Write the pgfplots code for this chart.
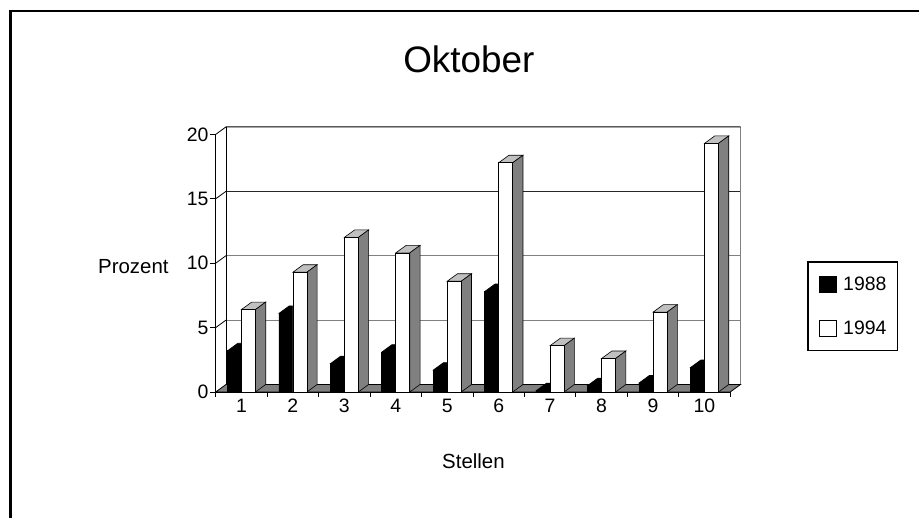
\documentclass[border=0pt]{standalone}
\usepackage{fontspec}
\setmainfont{Liberation Sans}
\usepackage{pgfplots}
\pgfplotsset{compat=1.18}

\definecolor{topgray}{HTML}{C0C0C0}
\definecolor{sidegray}{HTML}{808080}
\definecolor{gridgray}{HTML}{808080}

% depth of the 3-D extrusion (bp) and the y unit of the axis (bp)
\def\depx{10.3}
\def\depy{7.5}
\def\yunit{12.88}

% top and side face of a column; the mark sits at the top of the front face
% #1 = left edge of the front face relative to the data point (bp)
% #2 = top colour, #3 = side colour, #4 = colour of the front top edge
\newcommand\drawcube[4]{%
  \pgfmathsetmacro\barh{\barval*\yunit}%
  \pgfsetlinewidth{0.6bp}%
  \pgfsetstrokecolor{black}%
  \pgfsetfillcolor{#2}%
  \pgfpathmoveto{\pgfpoint{#1bp}{0bp}}%
  \pgfpathlineto{\pgfpoint{#1bp+\depx bp}{\depy bp}}%
  \pgfpathlineto{\pgfpoint{#1bp+14bp+\depx bp}{\depy bp}}%
  \pgfpathlineto{\pgfpoint{#1bp+14bp}{0bp}}%
  \pgfpathclose
  \pgfusepath{fill,stroke}%
  \pgfsetfillcolor{#3}%
  \pgfpathmoveto{\pgfpoint{#1bp+14bp}{0bp}}%
  \pgfpathlineto{\pgfpoint{#1bp+14bp+\depx bp}{\depy bp}}%
  \pgfpathlineto{\pgfpoint{#1bp+14bp+\depx bp}{\depy bp-\barh bp}}%
  \pgfpathlineto{\pgfpoint{#1bp+14bp}{-\barh bp}}%
  \pgfpathclose
  \pgfusepath{fill,stroke}%
  \pgfsetstrokecolor{#4}%
  \pgfpathmoveto{\pgfpoint{#1bp+0.4bp}{-0.9bp}}%
  \pgfpathlineto{\pgfpoint{#1bp+13.6bp}{-0.9bp}}%
  \pgfusepath{stroke}%
}
\pgfdeclareplotmark{cubeleft}{\drawcube{-14}{black}{black}{topgray}}
\pgfdeclareplotmark{cuberight}{\drawcube{0}{topgray}{sidegray}{white}}

\pgfplotsset{
  cubefaces/.style={
    scatter, only marks, forget plot, mark=#1,
    visualization depends on={y \as \barval},
    scatter/@pre marker code/.code={\pgfscope},
    scatter/@post marker code/.code={\endpgfscope},
  },
}

\begin{document}
\begin{tikzpicture}
\useasboundingbox (0,0) rectangle (919bp,518bp);
\draw[line width=2.6bp] (10.3bp,0bp) -- (10.3bp,506.8bp) -- (919bp,506.8bp);
\begin{axis}[
  at={(215.7bp,126bp)}, anchor=south west,
  x=51.45bp, y=\yunit bp,
  xmin=0.5, xmax=10.5, ymin=0, ymax=20,
  clip=false, clip marker paths=true,
  axis x line*=bottom, axis y line*=left,
  axis line style={line width=0.8bp, black},
  xtick={1,...,10}, ytick={0,5,...,20},
  major tick length=0pt,
  /pgf/number format/assume math mode=true,
  tick label style={font=\fontsize{19.5}{23}\selectfont},
  xticklabel style={inner ysep=6.5bp},
  yticklabel style={inner xsep=7bp},
  title={Oktober},
  title style={font=\fontsize{37}{44}\selectfont, at={(axis description cs:0.492,1.268)}, anchor=center},
  xlabel={Stellen},
  xlabel style={font=\fontsize{20.5}{24}\selectfont, at={(axis description cs:0.501,-0.268)}, anchor=center},
  ylabel={Prozent},
  ylabel style={font=\fontsize{20.5}{24}\selectfont, rotate=-90, at={(axis description cs:-0.16,0.485)}, anchor=center},
  legend cell align=left,
  legend style={at={(axis description cs:1.1499,0.3324)}, anchor=west,
    draw=black, line width=1.2bp, fill=white,
    font=\fontsize{19.5}{23}\selectfont,
    nodes={inner sep=0pt}, inner xsep=11bp, inner ysep=13.6bp,
    column sep=7bp, row sep=27bp},
]
% back wall, side-wall gridlines and floor
\pgfplotsinvokeforeach{5,10}{
  \draw[line width=0.8bp, gridgray] ([shift={(\depx bp,\depy bp)}]axis cs:0.5,#1) -- ([shift={(\depx bp,\depy bp)}]axis cs:10.5,#1);
  \draw[line width=0.8bp, black] (axis cs:0.5,#1) -- ++(\depx bp,\depy bp);
}
\draw[line width=0.8bp, black!85] ([shift={(\depx bp,\depy bp)}]axis cs:0.5,15) -- ([shift={(\depx bp,\depy bp)}]axis cs:10.5,15);
\draw[line width=0.8bp, black] (axis cs:0.5,15) -- ++(\depx bp,\depy bp);
\draw[line width=0.8bp, gridgray] ([shift={(\depx bp,\depy bp)}]axis cs:10.5,20) -- ([shift={(\depx bp,\depy bp)}]axis cs:10.5,0);
\draw[line width=0.8bp, black] (axis cs:0.5,20) -- ++(\depx bp,\depy bp) -- ([shift={(\depx bp,\depy bp)}]axis cs:10.5,20);
\draw[line width=0.8bp, black] ([shift={(\depx bp,\depy bp)}]axis cs:0.5,0) -- ([shift={(\depx bp,\depy bp)}]axis cs:0.5,20);
\filldraw[fill=sidegray, draw=black, line width=0.8bp] (axis cs:0.5,0) -- (axis cs:10.5,0) -- ++(\depx bp,\depy bp) -- ([shift={(\depx bp,\depy bp)}]axis cs:0.5,0) -- cycle;
% ticks
\pgfplotsinvokeforeach{0,5,...,20}{\draw[line width=0.8bp] (axis cs:0.5,#1) -- ++(-6bp,0bp);}
\pgfplotsinvokeforeach{0.5,1.5,...,10.5}{\draw[line width=0.8bp] (axis cs:#1,0) -- ++(0bp,-5bp);}

% 1988
\addplot[cubefaces=cubeleft] coordinates {
  (1,3.2) (2,6.1) (3,2.2) (4,3.1) (5,1.7) (6,7.8) (7,0.1) (8,0.5) (9,0.7) (10,1.9)};
\addplot[ybar, bar width=14bp, bar shift=-7bp, fill=black, draw=black, line width=0.6bp,
  legend image code/.code={\draw[fill=black, draw=black, line width=0.6bp] (0bp,-8.3bp) rectangle (16.7bp,8.3bp);}]
  coordinates {
  (1,3.2) (2,6.1) (3,2.2) (4,3.1) (5,1.7) (6,7.8) (7,0.1) (8,0.5) (9,0.7) (10,1.9)};
\addlegendentry{1988}
% 1994
\addplot[cubefaces=cuberight] coordinates {
  (1,6.4) (2,9.3) (3,12.0) (4,10.8) (5,8.6) (6,17.8) (7,3.6) (8,2.6) (9,6.2) (10,19.3)};
\addplot[ybar, bar width=14bp, bar shift=7bp, fill=white, draw=black, line width=0.6bp,
  legend image code/.code={\draw[fill=white, draw=black, line width=0.6bp] (0bp,-8.3bp) rectangle (16.7bp,8.3bp);}]
  coordinates {
  (1,6.4) (2,9.3) (3,12.0) (4,10.8) (5,8.6) (6,17.8) (7,3.6) (8,2.6) (9,6.2) (10,19.3)};
\addlegendentry{1994}
\end{axis}
\end{tikzpicture}
\end{document}
